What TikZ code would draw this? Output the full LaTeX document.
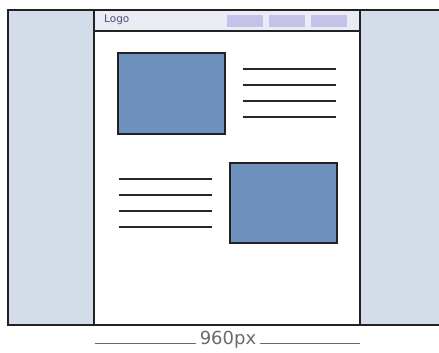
\documentclass[tikz,border=0pt]{standalone}
\usepackage{fontspec}
\setmainfont{DejaVu Sans}
\definecolor{side}{HTML}{D3DCE9}
\definecolor{hdr}{HTML}{E9ECF5}
\definecolor{navb}{HTML}{C6C1E9}
\definecolor{blk}{HTML}{6E90BD}
\definecolor{edge}{HTML}{222222}
\definecolor{dim}{HTML}{6A6A6A}
\definecolor{logoc}{HTML}{4E4E72}
\tikzset{
  panel/.style={draw=edge, line width=1.3pt},
  navbtn/.style={fill=navb, draw=none},
  imgbox/.style={fill=blk, draw=edge, line width=1.2pt},
  txtline/.style={draw=black!85, line width=1.2pt},
  dimline/.style={draw=dim, line width=0.8pt},
}
\begin{document}
\begin{tikzpicture}[x=1pt,y=-1pt]
\useasboundingbox (0,0) rectangle (439,353);
% panels
\fill[side] (8,10) rectangle (94,325);
\fill[side] (360,10) rectangle (439,325);
\fill[white] (94,10) rectangle (360,325);
\fill[hdr] (94,10) rectangle (360,31);
\node[navbtn, minimum width=36pt, minimum height=12pt, inner sep=0pt] (n1) at (245,21) {};
\node[navbtn, minimum width=36pt, minimum height=12pt, inner sep=0pt] (n2) at (287,21) {};
\node[navbtn, minimum width=36pt, minimum height=12pt, inner sep=0pt] (n3) at (329,21) {};
\node[anchor=west, inner sep=0pt, text=logoc, font=\fontsize{10.5}{12}\selectfont] (logo) at (104,20) {Logo};
\draw[panel] (8,10) rectangle (440,325);
\draw[panel] (94,10) -- (94,325);
\draw[panel] (360,10) -- (360,325);
\draw[panel] (94,31) -- (360,31);
% content
\node[imgbox, minimum width=107pt, minimum height=81pt, inner sep=0pt] (img1) at (171.5,93.5) {};
\node[imgbox, minimum width=107pt, minimum height=80pt, inner sep=0pt] (img2) at (283.5,203) {};
\foreach \y in {69,85,101,117} \draw[txtline] (243,\y) -- (336,\y);
\foreach \y in {179,195,211,227} \draw[txtline] (119,\y) -- (212,\y);
% dimension
\node[text=dim, font=\fontsize{18}{20}\selectfont, inner sep=4pt] (lbl) at (228,340) {960px};
\coordinate (dl) at (95,343);
\coordinate (dr) at (360,343);
\draw[dimline] (dl) -- (lbl.west |- dl);
\draw[dimline] (lbl.east |- dr) -- (dr);
\end{tikzpicture}
\end{document}
